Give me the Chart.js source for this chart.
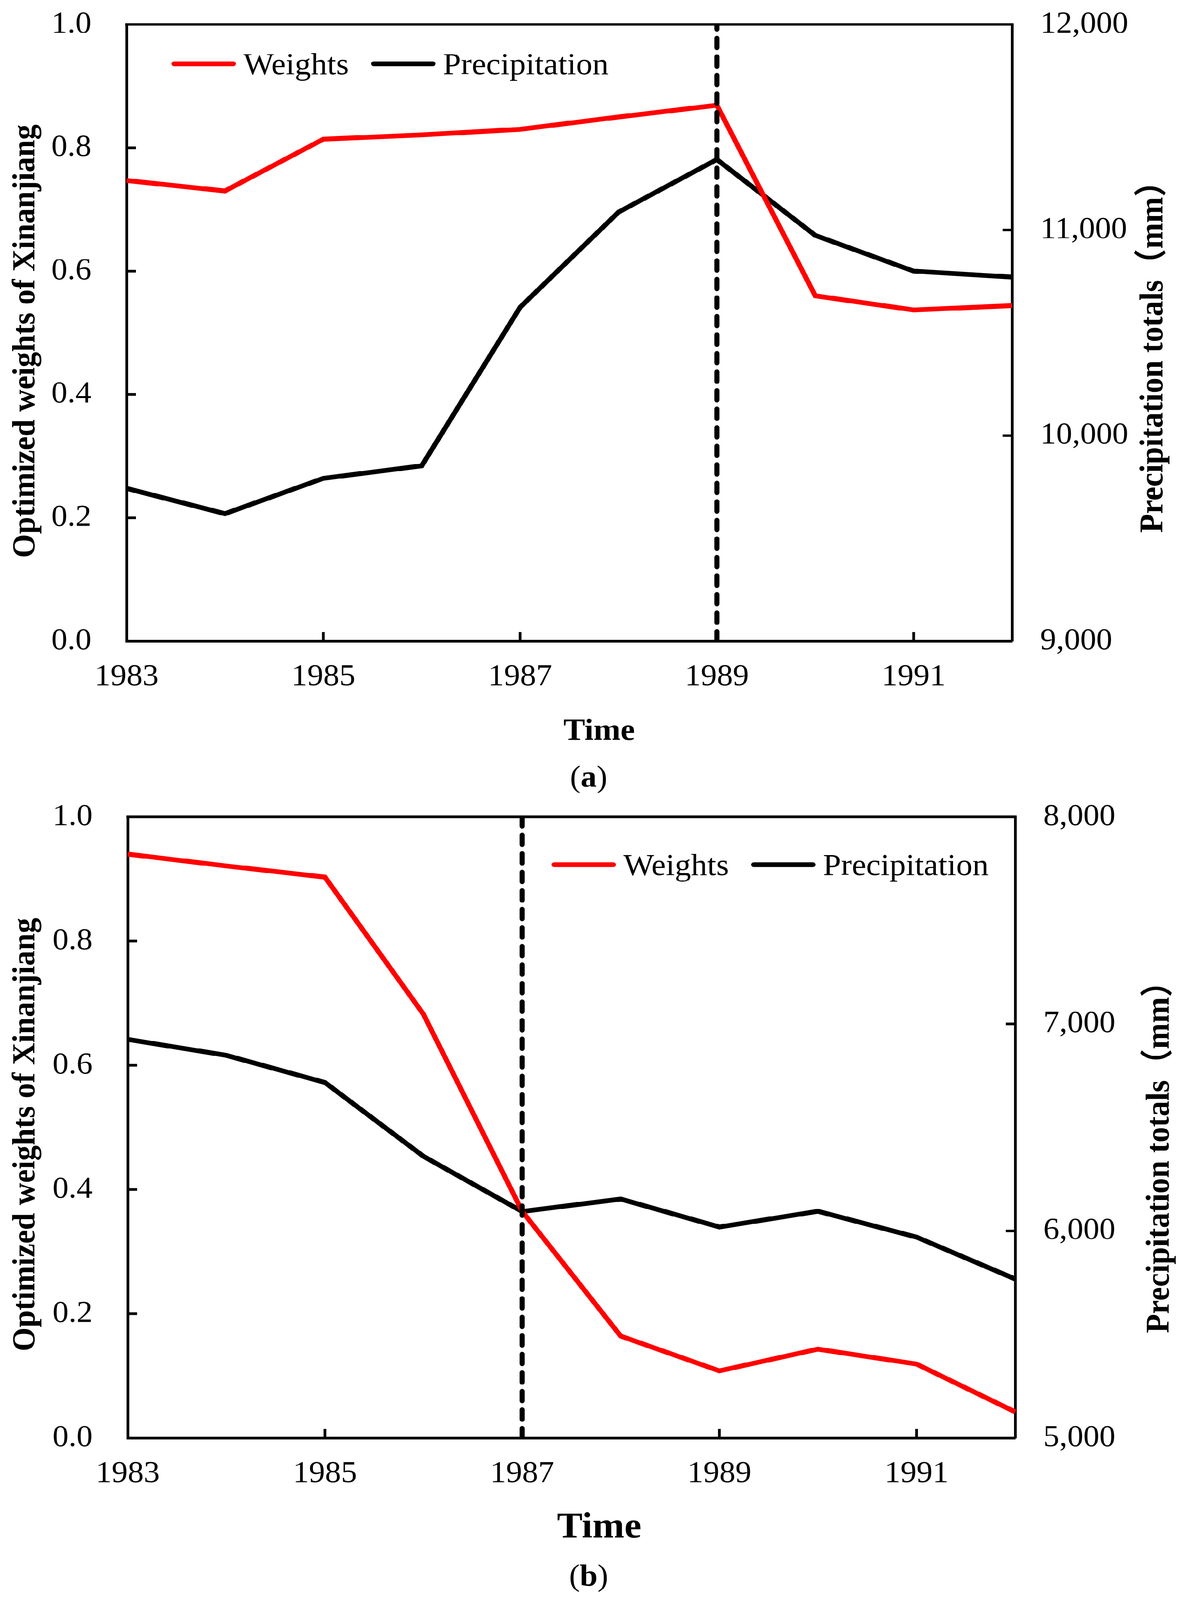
<!DOCTYPE html>
<html>
<head>
<meta charset="utf-8">
<script src="https://cdn.jsdelivr.net/npm/chart.js@4.4.1/dist/chart.umd.min.js"></script>
<style>
  html, body { margin: 0; padding: 0; background: #fff; overflow: hidden; }
  #wrap { position: relative; width: 3044px; height: 4315px; overflow: hidden; transform-origin: 0 0; }
  .panel { position: absolute; left: 0; width: 3044px; }
</style>
</head>
<body>
<div id="wrap">
  <div class="panel" style="top:0;height:2150px"><canvas id="chartA" width="3044" height="2150" style="width:3044px;height:2150px"></canvas></div>
  <div class="panel" style="top:2150px;height:2165px"><canvas id="chartB" width="3044" height="2165" style="width:3044px;height:2165px"></canvas></div>
</div>
<script>
// ── data ─────────────────────────────────────────────────────
var years = ['1983', '1984', '1985', '1986', '1987', '1988', '1989', '1990', '1991', '1992'];

var weightsA = [0.747, 0.730, 0.814, 0.821, 0.830, 0.850, 0.869, 0.560, 0.537, 0.544];
var precipA  = [9743, 9620, 9792, 9853, 10624, 11087, 11343, 10974, 10800, 10771];
var changeYearA = '1989';
var precipRangeA = [9000, 12000];

var weightsB = [0.940, 0.921, 0.903, 0.682, 0.365, 0.164, 0.108, 0.143, 0.119, 0.042];
var precipB  = [6925, 6848, 6717, 6360, 6094, 6154, 6019, 6095, 5970, 5768];
var changeYearB = '1987';
var precipRangeB = [5000, 8000];

var weightRange = [0, 1];
var seriesLabels = ['Weights', 'Precipitation'];
var leftTitle  = 'Optimized weights of Xinanjiang';
var rightTitle = 'Precipitation totals\uFF08mm\uFF09';
var xTitle = 'Time';

// ── styling ──────────────────────────────────────────────────
var RED = '#ff0000', BLACK = '#000000';
var SERIF = '"Liberation Serif", "Times New Roman", serif';
var RIGHT_FONT = '"Liberation Serif", "Noto Sans CJK SC", serif';
var AXIS_W = 7, TICK_LEN = 24, LINE_W = 13;
var PAGE_W = 3044, PAGE_H = 4315;

// the figure is laid out for 3044x4315; squeeze it if the viewport is shorter
(function fitPage() {
  var ky = Math.min(1, (window.innerHeight || PAGE_H) / PAGE_H);
  var kx = Math.min(1, (window.innerWidth || PAGE_W) / PAGE_W);
  if (ky < 1 || kx < 1) {
    document.getElementById('wrap').style.transform = 'scale(' + kx + ',' + ky + ')';
  }
})();

function fmtThousands(v) {
  return Math.round(v).toString().replace(/\B(?=(\d{3})+(?!\d))/g, ',');
}

// inward tick marks + top edge of the box
var framePlugin = {
  id: 'frame',
  afterDraw: function (chart) {
    var ctx = chart.ctx, a = chart.chartArea;
    var sx = chart.scales.x, sy = chart.scales.y, sy1 = chart.scales.y1;
    ctx.save();
    ctx.strokeStyle = BLACK;
    ctx.lineWidth = AXIS_W;
    ctx.lineCap = 'square';
    ctx.beginPath();
    ctx.moveTo(a.left, a.top); ctx.lineTo(a.right, a.top);
    ctx.stroke();
    ctx.lineCap = 'butt';
    ctx.beginPath();
    sy.ticks.forEach(function (t) {
      var py = sy.getPixelForValue(t.value);
      if (Math.abs(py - a.top) < 2 || Math.abs(py - a.bottom) < 2) return;
      ctx.moveTo(a.left, py); ctx.lineTo(a.left + TICK_LEN, py);
    });
    sy1.ticks.forEach(function (t) {
      var py = sy1.getPixelForValue(t.value);
      if (Math.abs(py - a.top) < 2 || Math.abs(py - a.bottom) < 2) return;
      ctx.moveTo(a.right, py); ctx.lineTo(a.right - TICK_LEN, py);
    });
    years.forEach(function (y, i) {
      if (i % 2 !== 0 || i === 0) return;
      var px = sx.getPixelForValue(i);
      ctx.moveTo(px, a.bottom); ctx.lineTo(px, a.bottom - TICK_LEN);
    });
    ctx.stroke();
    ctx.restore();
  }
};

// legend inside the plot, axis titles, panel letter
var textPlugin = {
  id: 'panelText',
  afterDraw: function (chart, args, o) {
    var ctx = chart.ctx;
    ctx.save();
    ctx.fillStyle = BLACK;

    // legend
    var x = o.legendX, ly = o.legendY;
    ctx.font = '83px ' + SERIF;
    ctx.textBaseline = 'alphabetic';
    ctx.textAlign = 'left';
    chart.data.datasets.forEach(function (ds) {
      if (!ds.legend) return;
      ctx.strokeStyle = ds.borderColor;
      ctx.lineWidth = LINE_W;
      ctx.lineCap = 'round';
      ctx.beginPath();
      ctx.moveTo(x + LINE_W / 2, ly);
      ctx.lineTo(x + 165 - LINE_W / 2, ly);
      ctx.stroke();
      x += 165 + 19;
      ctx.fillText(ds.label, x, ly + 28);
      x += ctx.measureText(ds.label).width + 57;
    });

    // left title
    ctx.font = 'bold 83px ' + SERIF;
    ctx.textAlign = 'center';
    ctx.save();
    ctx.translate(88, o.leftTitleY);
    ctx.rotate(-Math.PI / 2);
    ctx.fillText(leftTitle, 0, 0);
    ctx.restore();

    // right title (reads bottom to top, like the left one)
    ctx.font = 'bold 84px ' + RIGHT_FONT;
    ctx.save();
    ctx.translate(o.rightTitleX, o.rightTitleY);
    ctx.rotate(-Math.PI / 2);
    ctx.fillText(rightTitle, 0, 0);
    ctx.restore();

    // x title
    ctx.font = 'bold ' + o.timeSize + 'px ' + SERIF;
    ctx.fillText(xTitle, 1534, o.timeY);

    // panel letter: "(" + bold letter + ")"
    var pNorm = '82px ' + SERIF, pBold = 'bold 82px ' + SERIF;
    ctx.font = pNorm; var wo = ctx.measureText('(').width, wc = ctx.measureText(')').width;
    ctx.font = pBold; var wl = ctx.measureText(o.letter).width;
    var sx = 1507 - (wo + wl + wc) / 2;
    ctx.textAlign = 'left';
    ctx.font = pNorm; ctx.fillText('(', sx, o.letterY);
    ctx.font = pBold; ctx.fillText(o.letter, sx + wo, o.letterY);
    ctx.font = pNorm; ctx.fillText(')', sx + wo + wl, o.letterY);
    ctx.restore();
  }
};

function mkPanel(id, p) {
  var cv = document.getElementById(id);
  var W = cv.width, H = cv.height;
  var tickFont = { family: SERIF, size: 82 };
  // label gap is made with an invisible tick mark, so ticks.padding
  // does not push the chart area down
  var hiddenTicks = function (len) {
    return { display: true, drawOnChartArea: false, drawTicks: true, tickLength: len, tickColor: 'rgba(0,0,0,0)' };
  };
  return new Chart(cv, {
    type: 'line',
    data: {
      labels: years,
      datasets: [
        {
          label: 'change', data: [{ x: p.changeYear, y: weightRange[0] }, { x: p.changeYear, y: weightRange[1] }],
          yAxisID: 'y', borderColor: BLACK, borderWidth: LINE_W, borderDash: [26, 24],
          borderCapStyle: 'round', pointRadius: 0, order: 0
        },
        {
          label: seriesLabels[0], legend: true, data: p.weights, yAxisID: 'y',
          borderColor: RED, borderWidth: LINE_W, pointRadius: 0, tension: 0, order: 1
        },
        {
          label: seriesLabels[1], legend: true, data: p.precip, yAxisID: 'y1',
          borderColor: BLACK, borderWidth: LINE_W, pointRadius: 0, tension: 0, order: 2
        }
      ]
    },
    options: {
      responsive: false,
      animation: false,
      devicePixelRatio: 1,
      events: [],
      layout: { padding: { top: p.top, left: 0, right: 0, bottom: 0 } },
      plugins: {
        legend: { display: false },
        tooltip: { enabled: false },
        panelText: p.text
      },
      scales: {
        x: {
          type: 'category',
          grid: hiddenTicks(48),
          border: { display: true, color: BLACK, width: AXIS_W },
          ticks: {
            color: BLACK, font: tickFont, padding: 0, autoSkip: false, maxRotation: 0,
            callback: function (v, i) { return i % 2 === 0 ? years[i] : ''; }
          },
          afterFit: function (s) { s.height = H - p.bottom; }
        },
        y: {
          position: 'left', min: weightRange[0], max: weightRange[1],
          grid: hiddenTicks(90),
          border: { display: true, color: BLACK, width: AXIS_W },
          ticks: {
            stepSize: 0.2, color: BLACK, font: tickFont, padding: 0,
            callback: function (v) { return v.toFixed(1); }
          },
          afterFit: function (s) { s.width = p.left; }
        },
        y1: {
          position: 'right', min: p.precipRange[0], max: p.precipRange[1],
          grid: hiddenTicks(72),
          border: { display: true, color: BLACK, width: AXIS_W },
          ticks: {
            stepSize: 1000, color: BLACK, font: tickFont, padding: 0,
            callback: function (v) { return fmtThousands(v); }
          },
          afterFit: function (s) { s.width = W - p.right; }
        }
      }
    },
    plugins: [framePlugin, textPlugin]
  });
}

mkPanel('chartA', {
  weights: weightsA, precip: precipA, changeYear: changeYearA, precipRange: precipRangeA,
  left: 324, right: 2591, top: 66, bottom: 1729,
  text: {
    legendX: 439, legendY: 172, leftTitleY: 920, rightTitleX: 2976, rightTitleY: 942,
    timeSize: 83, timeY: 1995, letter: 'a', letterY: 2122
  }
});

mkPanel('chartB', {
  weights: weightsB, precip: precipB, changeYear: changeYearB, precipRange: precipRangeB,
  left: 327, right: 2599, top: 53, bottom: 1728,
  text: {
    legendX: 1412, legendY: 182, leftTitleY: 910, rightTitleX: 2992, rightTitleY: 950,
    timeSize: 98, timeY: 1996, letter: 'b', letterY: 2126
  }
});
</script>
</body>
</html>
